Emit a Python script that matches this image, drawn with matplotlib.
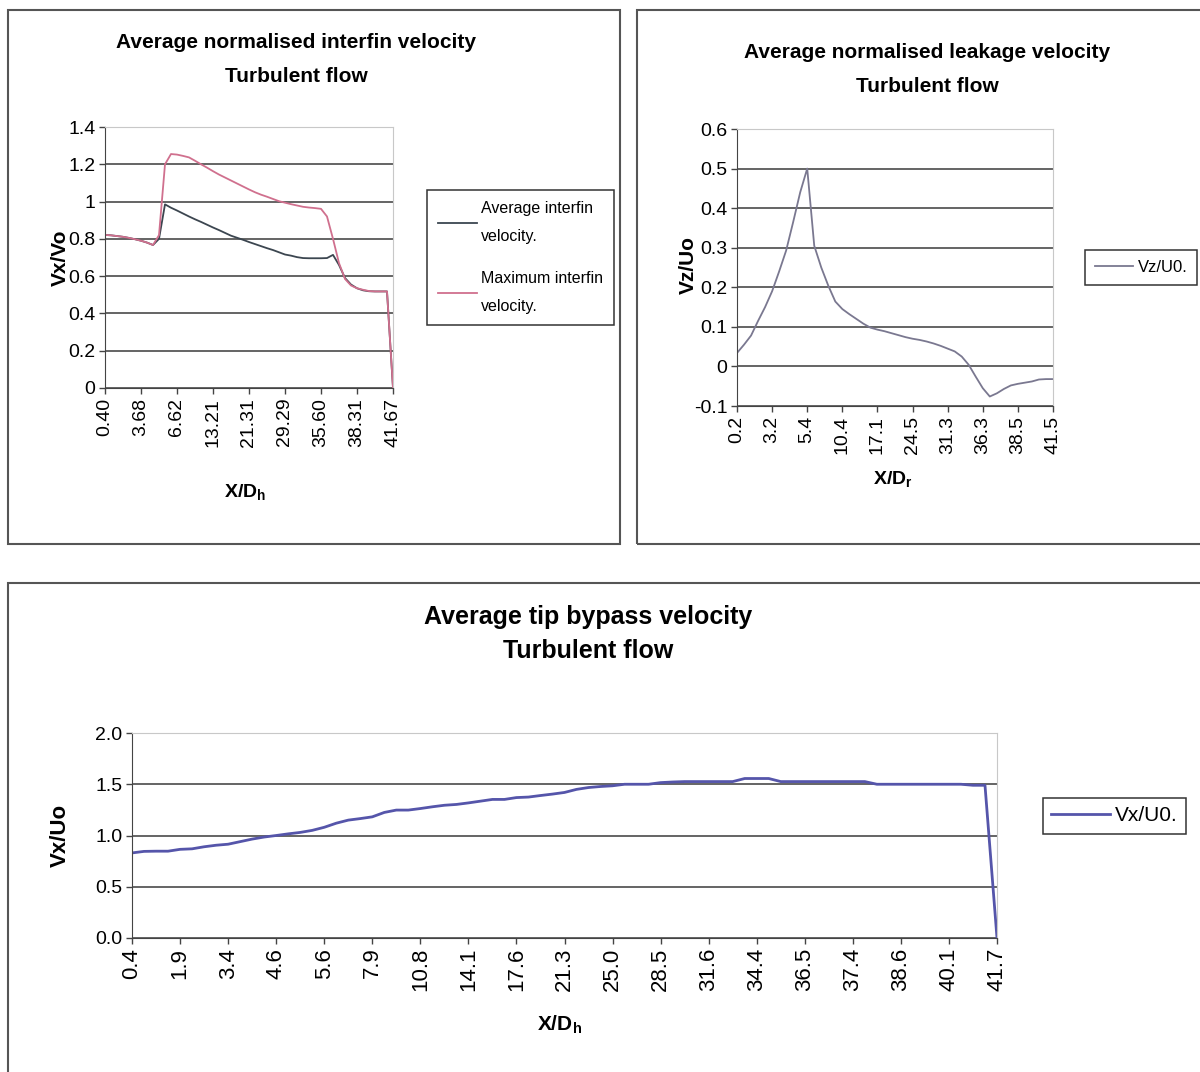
import matplotlib.pyplot as plt
from matplotlib.patches import Rectangle
from matplotlib.lines import Line2D

W, H = 1200, 1072
ARIAL = ['Liberation Sans', 'DejaVu Sans']

# Interfin velocity along the fin (Vx/Vo), one value per x station
interfin_ticks = ['0.40', '3.68', '6.62', '13.21', '21.31', '29.29', '35.60', '38.31', '41.67']
interfin_avg = [0.821, 0.819, 0.815, 0.811, 0.805, 0.798, 0.790, 0.780, 0.767, 0.800,
                0.985, 0.967, 0.952, 0.936, 0.920, 0.905, 0.891, 0.876, 0.861, 0.847,
                0.832, 0.817, 0.806, 0.795, 0.783, 0.772, 0.761, 0.750, 0.740, 0.728,
                0.716, 0.710, 0.702, 0.697, 0.696, 0.696, 0.696, 0.697, 0.714, 0.660,
                0.590, 0.555, 0.535, 0.524, 0.519, 0.518, 0.518, 0.518, 0.0]
interfin_max = [0.821, 0.819, 0.815, 0.811, 0.805, 0.798, 0.790, 0.780, 0.767, 0.820,
                1.200, 1.255, 1.252, 1.245, 1.237, 1.219, 1.200, 1.182, 1.163, 1.145,
                1.129, 1.113, 1.097, 1.081, 1.065, 1.050, 1.037, 1.026, 1.014, 1.002,
                0.994, 0.986, 0.979, 0.972, 0.968, 0.965, 0.961, 0.920, 0.800, 0.670,
                0.585, 0.550, 0.535, 0.527, 0.520, 0.518, 0.518, 0.518, 0.0]

# Leakage velocity (Vz/Uo)
leak_ticks = ['0.2', '3.2', '5.4', '10.4', '17.1', '24.5', '31.3', '36.3', '38.5', '41.5']
leak_vz = [0.034, 0.055, 0.078, 0.115, 0.150, 0.190, 0.240, 0.293, 0.365, 0.440,
           0.500, 0.305, 0.250, 0.204, 0.164, 0.145, 0.132, 0.120, 0.108, 0.098,
           0.093, 0.089, 0.084, 0.079, 0.074, 0.070, 0.067, 0.063, 0.058, 0.052,
           0.045, 0.038, 0.025, 0.004, -0.026, -0.055, -0.076, -0.068, -0.057, -0.048,
           -0.044, -0.041, -0.038, -0.033, -0.032, -0.032]

# Tip bypass velocity (Vx/Uo)
bypass_ticks = ['0.4', '1.9', '3.4', '4.6', '5.6', '7.9', '10.8', '14.1', '17.6', '21.3',
                '25.0', '28.5', '31.6', '34.4', '36.5', '37.4', '38.6', '40.1', '41.7']
bypass_vx = [0.830, 0.845, 0.847, 0.847, 0.865, 0.870, 0.890, 0.905, 0.915, 0.940,
             0.965, 0.985, 1.000, 1.016, 1.030, 1.050, 1.080, 1.120, 1.150, 1.165,
             1.182, 1.225, 1.248, 1.248, 1.263, 1.280, 1.295, 1.303, 1.318, 1.335,
             1.352, 1.352, 1.370, 1.375, 1.390, 1.404, 1.420, 1.450, 1.468, 1.478,
             1.485, 1.500, 1.500, 1.500, 1.516, 1.522, 1.526, 1.526, 1.526, 1.526,
             1.526, 1.556, 1.556, 1.556, 1.526, 1.526, 1.526, 1.526, 1.526, 1.526,
             1.526, 1.526, 1.500, 1.500, 1.500, 1.500, 1.500, 1.500, 1.500, 1.500,
             1.490, 1.490, 0.0]


def fx(x):
    return x / W


def fy(y):
    return 1 - y / H


def box(l, t, r, b):
    return [l / W, 1 - b / H, (r - l) / W, (b - t) / H]


def excel_axes(ax, n, ticks, ylim, yticks, ylabels, xsize=14, ysize=14):
    # category axis: one label every `step` points
    step = (n - 1) // (len(ticks) - 1)
    ax.set_xlim(0, n - 1)
    ax.set_xticks(range(0, n, step))
    ax.set_xticklabels(ticks, rotation=90, fontsize=xsize, family=ARIAL)
    ax.set_ylim(*ylim)
    ax.set_yticks(yticks)
    ax.set_yticklabels(ylabels, fontsize=ysize, family=ARIAL)
    ax.yaxis.grid(True, color='#3a3a3a', lw=1.1)
    ax.set_axisbelow(True)
    for s in ['top', 'right']:
        ax.spines[s].set_color('#c8c8c8')
    for s in ['left', 'bottom']:
        ax.spines[s].set_color('#444')
    ax.tick_params(direction='out', length=4, width=1, color='#444', pad=3)


def add_legend(ax, colors, widths, labels, corner, size, hlen, pad,
               lspace=0.8, linespacing=1.2):
    handles = [Line2D([], [], color=c, lw=w) for c, w in zip(colors, widths)]
    leg = ax.legend(handles, labels, loc='upper left',
                    bbox_to_anchor=(fx(corner[0]), fy(corner[1])),
                    bbox_transform=ax.figure.transFigure, fancybox=False,
                    edgecolor='#333333', framealpha=1, borderaxespad=0,
                    prop={'family': ARIAL, 'size': size}, handlelength=hlen,
                    handletextpad=0.25, labelspacing=lspace, borderpad=pad)
    leg.get_frame().set_linewidth(1.1)
    for t in leg.get_texts():
        t.set_linespacing(linespacing)
    return leg


fig = plt.figure(figsize=(W / 100, H / 100), dpi=100)

# panel frames
for l, t, r, b in [(8, 10, 620, 544), (637, 10, 1210, 544), (8, 583, 1210, 1090)]:
    fig.patches.append(Rectangle((fx(l), fy(b)), (r - l) / W, (b - t) / H,
                                 transform=fig.transFigure, fill=False,
                                 edgecolor='#555555', lw=1.5))

# --- interfin velocity ---
ax1 = fig.add_axes(box(105, 127, 393, 388))
x1 = range(len(interfin_avg))
ax1.plot(x1, interfin_avg, color='#3c4650', lw=1.3)
ax1.plot(x1, interfin_max, color='#d0708e', lw=1.3)
excel_axes(ax1, len(interfin_avg), interfin_ticks, (0, 1.4),
           [0, 0.2, 0.4, 0.6, 0.8, 1.0, 1.2, 1.4],
           ['0', '0.2', '0.4', '0.6', '0.8', '1', '1.2', '1.4'])
fig.text(fx(296), fy(43), 'Average normalised interfin velocity', ha='center', va='center',
         fontsize=15, fontweight='bold', family=ARIAL)
fig.text(fx(296), fy(77), 'Turbulent flow', ha='center', va='center',
         fontsize=15, fontweight='bold', family=ARIAL)
fig.text(fx(60), fy(258), 'Vx/Vo', rotation=90, ha='center', va='center',
         fontsize=15, fontweight='bold', family=ARIAL)
fig.text(fx(245), fy(493), r'X/D$_\mathregular{h}$', ha='center', va='center',
         fontsize=14, fontweight='bold', family=ARIAL)
add_legend(ax1, ['#3c4650', '#d0708e'], [1.3, 1.3],
           ['Average interfin\nvelocity.', 'Maximum interfin\nvelocity.'],
           (427, 190), 11.5, 2.4, 0.7, lspace=1.7, linespacing=2.05)

# --- leakage velocity ---
ax2 = fig.add_axes(box(737, 129, 1053, 406))
ax2.plot(range(len(leak_vz)), leak_vz, color='#7a7890', lw=1.3)
excel_axes(ax2, len(leak_vz), leak_ticks, (-0.1, 0.6),
           [-0.1, 0, 0.1, 0.2, 0.3, 0.4, 0.5, 0.6],
           ['-0.1', '0', '0.1', '0.2', '0.3', '0.4', '0.5', '0.6'])
fig.text(fx(927), fy(52), 'Average normalised leakage velocity', ha='center', va='center',
         fontsize=15, fontweight='bold', family=ARIAL)
fig.text(fx(927), fy(87), 'Turbulent flow', ha='center', va='center',
         fontsize=15, fontweight='bold', family=ARIAL)
fig.text(fx(688), fy(265), 'Vz/Uo', rotation=90, ha='center', va='center',
         fontsize=15, fontweight='bold', family=ARIAL)
fig.text(fx(893), fy(480), r'X/D$_\mathregular{r}$', ha='center', va='center',
         fontsize=14, fontweight='bold', family=ARIAL)
add_legend(ax2, ['#7a7890'], [1.3], ['Vz/U0.'], (1085, 250), 12, 2.3, 0.6)

# --- tip bypass velocity ---
ax3 = fig.add_axes(box(132, 733, 997, 938))
ax3.plot(range(len(bypass_vx)), bypass_vx, color='#5555aa', lw=2)
excel_axes(ax3, len(bypass_vx), bypass_ticks, (0, 2.0),
           [0, 0.5, 1.0, 1.5, 2.0], ['0.0', '0.5', '1.0', '1.5', '2.0'],
           xsize=16, ysize=14)
fig.text(fx(588), fy(617), 'Average tip bypass velocity', ha='center', va='center',
         fontsize=18, fontweight='bold', family=ARIAL)
fig.text(fx(588), fy(651), 'Turbulent flow', ha='center', va='center',
         fontsize=18, fontweight='bold', family=ARIAL)
fig.text(fx(60), fy(835), 'Vx/Uo', rotation=90, ha='center', va='center',
         fontsize=16, fontweight='bold', family=ARIAL)
fig.text(fx(560), fy(1025), r'X/D$_\mathregular{h}$', ha='center', va='center',
         fontsize=15, fontweight='bold', family=ARIAL)
add_legend(ax3, ['#5555aa'], [2], ['Vx/U0.'], (1043, 798), 15, 2.8, 0.4)

fig.savefig('out.png', dpi=100)
